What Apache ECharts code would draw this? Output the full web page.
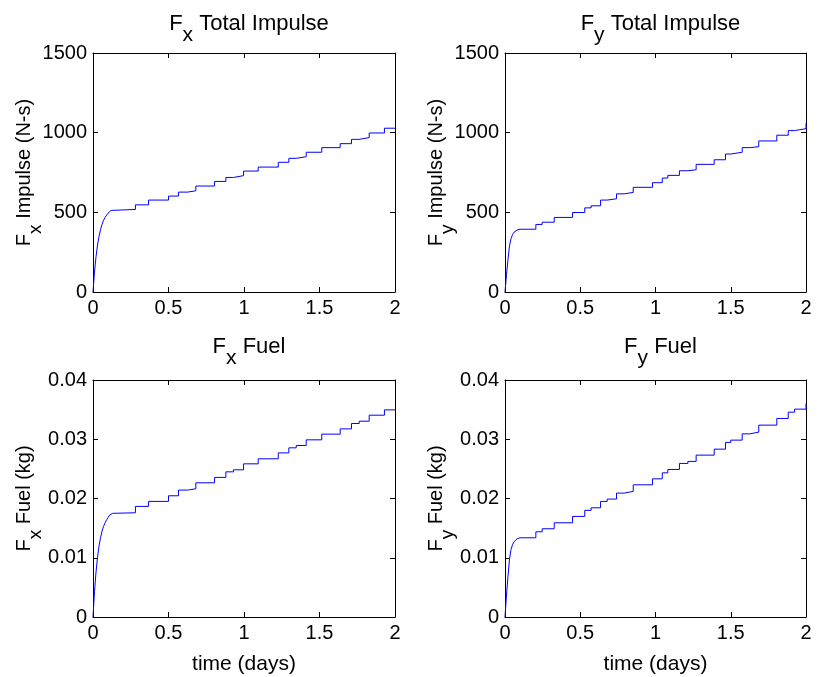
<!DOCTYPE html>
<html><head><meta charset="utf-8">
<script src="https://cdn.jsdelivr.net/npm/echarts@6/dist/echarts.min.js"></script>
<style>html,body{margin:0;padding:0;background:#fff}#c{width:821px;height:677px}</style>
</head><body><div id="c"></div>
<script>
// ---- Data ----
const xTicks = [0, 0.5, 1, 1.5, 2];

// Fx: initial rise then steps
const fxRiseT      = [0, 0.005, 0.01, 0.02, 0.03, 0.04, 0.05, 0.06, 0.07, 0.08, 0.09, 0.1, 0.11, 0.12, 0.13];
const fxImpRise    = [0, 65, 125, 222, 295, 350, 392, 425, 450, 468, 482, 495, 505, 512, 516];
const fxFuelRise   = [0, 0.0022, 0.0043, 0.0076, 0.0101, 0.0120, 0.0134, 0.0145, 0.0153, 0.0159, 0.0164, 0.0168, 0.0172, 0.0174, 0.0175];
const fxStepT      = [0.281, 0.368, 0.5, 0.566, 0.626, 0.681, 0.805, 0.88, 0.93, 0.997, 1.094, 1.227, 1.297, 1.346, 1.412, 1.515, 1.637, 1.712, 1.763, 1.829, 1.93];
const fxImpLevels  = [518, 547, 577, 602, 627, 635, 665, 694, 719, 730, 759, 784, 814, 839, 849, 877, 906, 931, 958, 969, 998, 1028];
const fxFuelLevels = [0.01759, 0.01867, 0.01951, 0.02046, 0.02142, 0.02164, 0.02265, 0.02356, 0.0245, 0.02484, 0.02585, 0.0267, 0.0277, 0.02855, 0.02895, 0.0299, 0.03086, 0.03175, 0.03266, 0.03305, 0.03406, 0.03496];

// Fy: initial rise then steps
const fyRiseT      = [0, 0.005, 0.01, 0.02, 0.03, 0.04, 0.05, 0.06, 0.07, 0.08, 0.09, 0.1];
const fyImpRise    = [0, 55, 110, 205, 290, 335, 360, 375, 384, 389, 392, 394];
const fyFuelRise   = [0, 0.0019, 0.0037, 0.0069, 0.0098, 0.0114, 0.0122, 0.0127, 0.013, 0.0132, 0.01333, 0.01337];
const fyStepT      = [0.205, 0.247, 0.327, 0.449, 0.53, 0.572, 0.635, 0.679, 0.741, 0.792, 0.852, 0.98, 1.045, 1.082, 1.159, 1.215, 1.27, 1.39, 1.465, 1.5, 1.576, 1.627, 1.686, 1.806, 1.882, 1.924, 2.0];
const fyImpLevels  = [394, 424, 438, 468, 499, 528, 541, 577, 585, 616, 625, 657, 686, 715, 732, 761, 767, 801, 830, 866, 877, 906, 912, 948, 984, 1013, 1025, 1059];
const fyFuelLevels = [0.01337, 0.01438, 0.01489, 0.0159, 0.01698, 0.018, 0.01843, 0.01951, 0.0199, 0.02091, 0.0212, 0.02231, 0.02332, 0.02433, 0.0249, 0.02592, 0.02626, 0.02732, 0.02833, 0.02946, 0.02985, 0.03091, 0.0312, 0.03238, 0.03351, 0.03457, 0.03508, 0.03604];

const impTicks  = [0, 500, 1000, 1500];
const fuelTicks = [0, 0.01, 0.02, 0.03, 0.04];

// ---- build step paths ----
function buildPath(riseT, rise, stepT, levels, tEnd) {
  const pts = riseT.map((t, i) => [t, rise[i]]);
  for (let i = 0; i < stepT.length; i++) {
    pts.push([stepT[i], levels[i]]);
    pts.push([stepT[i], levels[i + 1]]);
  }
  if (stepT[stepT.length - 1] < tEnd) pts.push([tEnd, levels[levels.length - 1]]);
  return pts;
}

const FONT = 'Liberation Sans, Arial, Helvetica, sans-serif';
const FS = 20;
const chart = echarts.init(document.getElementById('c'), null, {renderer: 'canvas'});

const grids = [
  {left: 93, top: 53, width: 302, height: 239},
  {left: 505, top: 53, width: 301, height: 239},
  {left: 93, top: 380, width: 302, height: 237},
  {left: 505, top: 380, width: 301, height: 237}
];
function rich(fs) {
  return {
    a: {fontSize: fs, fontFamily: FONT, color: '#000', fontWeight: 'normal'},
    s: {fontSize: fs - 1, fontFamily: FONT, color: '#000', fontWeight: 'normal', padding: [Math.round(fs * 1.1), 0, 0, 0]}
  };
}
const panels = [
  {sub: 'x', title: ' Total Impulse', yname: ' Impulse (N-s)', ticks: impTicks, max: 1500, interval: 500,
   data: buildPath(fxRiseT, fxImpRise, fxStepT, fxImpLevels, 2), xname: ''},
  {sub: 'y', title: ' Total Impulse', yname: ' Impulse (N-s)', ticks: impTicks, max: 1500, interval: 500,
   data: buildPath(fyRiseT, fyImpRise, fyStepT, fyImpLevels, 2), xname: ''},
  {sub: 'x', title: ' Fuel', yname: ' Fuel (kg)', ticks: fuelTicks, max: 0.04, interval: 0.01,
   data: buildPath(fxRiseT, fxFuelRise, fxStepT, fxFuelLevels, 2), xname: 'time (days)'},
  {sub: 'y', title: ' Fuel', yname: ' Fuel (kg)', ticks: fuelTicks, max: 0.04, interval: 0.01,
   data: buildPath(fyRiseT, fyFuelRise, fyStepT, fyFuelLevels, 2), xname: 'time (days)'}
];

const xAxis = [], yAxis = [], series = [], title = [];
panels.forEach((p, i) => {
  const g = grids[i];
  const common = {
    gridIndex: i, type: 'value', min: 0, max: 2, interval: 0.5,
    axisLine: {show: true, onZero: false, lineStyle: {color: '#000', width: 1}},
    axisTick: {show: true, inside: true, length: 5, lineStyle: {color: '#000', width: 1}},
    splitLine: {show: false}
  };
  xAxis.push(Object.assign({}, common, {
    position: 'bottom',
    axisLabel: {fontSize: FS, fontFamily: FONT, color: '#000', margin: 6, formatter: v => String(v)},
    name: p.xname, nameLocation: 'middle', nameGap: 37, nameMoveOverlap: false,
    nameTextStyle: {fontSize: 21, fontFamily: FONT, color: '#000'}
  }));
  xAxis.push(Object.assign({}, common, {position: 'top', axisLabel: {show: false}}));
  const ycommon = {
    gridIndex: i, type: 'value', min: 0, max: p.max, interval: p.interval,
    axisLine: {show: true, onZero: false, lineStyle: {color: '#000', width: 1}},
    axisTick: {show: true, inside: true, length: 5, lineStyle: {color: '#000', width: 1}},
    splitLine: {show: false}
  };
  yAxis.push(Object.assign({}, ycommon, {
    position: 'left',
    axisLabel: {fontSize: FS, fontFamily: FONT, color: '#000', margin: 6, formatter: v => String(v)},
    name: '{a|F}{s|' + p.sub + '}{a|' + p.yname + '}',
    nameLocation: 'middle', nameRotate: 90, nameGap: 48, nameMoveOverlap: false,
    nameTextStyle: {rich: rich(20)}
  }));
  yAxis.push(Object.assign({}, ycommon, {position: 'right', axisLabel: {show: false}}));
  series.push({
    type: 'line', xAxisIndex: 2 * i, yAxisIndex: 2 * i, data: p.data,
    showSymbol: false, symbol: 'none', silent: true, animation: false,
    lineStyle: {color: '#0000ff', width: 1}
  });
  title.push({
    text: '{a|F}{s|' + p.sub + '}{a|' + p.title + '}',
    left: g.left + g.width / 2, top: (i < 2 ? -4 : 319), textAlign: 'center',
    textStyle: {rich: rich(22)}
  });
});

chart.setOption({
  animation: false,
  backgroundColor: '#fff',
  title: title,
  grid: grids.map(g => Object.assign({containLabel: false}, g)),
  xAxis: xAxis, yAxis: yAxis, series: series
});
</script></body></html>
